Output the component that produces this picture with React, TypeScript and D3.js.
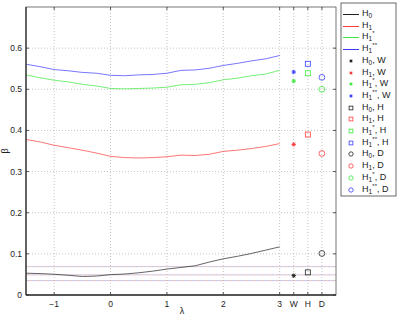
import * as d3 from 'd3'

const lambdas = [-1.5, -1.25, -1, -0.75, -0.5, -0.25, 0, 0.25, 0.5, 0.75, 1, 1.25, 1.5, 1.75, 2, 2.25, 2.5, 2.75, 3]
const h0 = [0.053, 0.052, 0.0505, 0.048, 0.045, 0.046, 0.0495, 0.051, 0.054, 0.058, 0.063, 0.067, 0.071, 0.08, 0.088, 0.094, 0.101, 0.109, 0.117]
const h1 = [0.378, 0.372, 0.364, 0.358, 0.352, 0.345, 0.337, 0.334, 0.333, 0.334, 0.336, 0.34, 0.339, 0.342, 0.349, 0.352, 0.356, 0.361, 0.368]
const h1s = [0.535, 0.528, 0.522, 0.518, 0.512, 0.508, 0.502, 0.501, 0.502, 0.503, 0.505, 0.511, 0.512, 0.516, 0.523, 0.527, 0.533, 0.537, 0.546]
const h1ss = [0.561, 0.555, 0.548, 0.545, 0.541, 0.539, 0.534, 0.533, 0.535, 0.536, 0.539, 0.546, 0.547, 0.551, 0.558, 0.563, 0.569, 0.574, 0.582]

// W, H, D estimates per hypothesis: H0, H1, H1*, H1**
const wVals = [0.047, 0.366, 0.52, 0.542]
const hVals = [0.055, 0.39, 0.539, 0.562]
const dVals = [0.101, 0.344, 0.5, 0.529]

const refLevels = [0.069, 0.049, 0.035]

const xTicks = [-1, 0, 1, 2, 3, 3.25, 3.5, 3.75]
const xTickLabels = ['−1', '0', '1', '2', '3', 'W', 'H', 'D']
const yTicks = [0, 0.1, 0.2, 0.3, 0.4, 0.5, 0.6]

const colors = ['#222', '#ff3b3b', '#3be83b', '#3b3bff']
const hypSub = ['0', '1', '1', '1']
const hypSup = ['', '', '*', '**']

const W = 399
const H = 318
const m = { left: 26, top: 7, right: 336, bottom: 295 }
const font = 'Liberation Sans, Arial, sans-serif'

function Star({ x, y, c, r }: { x: number; y: number; c: string; r: number }) {
  const k = r * 0.7
  const d = `M${x - r},${y}L${x + r},${y}M${x},${y - r}L${x},${y + r}M${x - k},${y - k}L${x + k},${y + k}M${x - k},${y + k}L${x + k},${y - k}`
  return <path d={d} stroke={c} strokeWidth={1} fill="none" />
}

function Marker({ kind, x, y, c, s }: { kind: string; x: number; y: number; c: string; s: number }) {
  if (kind === 'W') return <Star x={x} y={y} c={c} r={2.2 * s} />
  if (kind === 'H') return <rect x={x - 2.5 * s} y={y - 2.5 * s} width={5 * s} height={5 * s} fill="none" stroke={c} strokeWidth={0.8} />
  return <circle cx={x} cy={y} r={2.9 * s} fill="none" stroke={c} strokeWidth={0.8} />
}

function Label({ i, suffix, x, y }: { i: number; suffix: string; x: number; y: number }) {
  const sup = hypSup[i]
  return (
    <text x={x} y={y} fontSize={9} fontFamily={font} fill="#222">
      H
      <tspan fontSize={6.5} dy={2.5}>{hypSub[i]}</tspan>
      {sup ? <tspan fontSize={6} dx={0.2} dy={-6}>{sup}</tspan> : null}
      {suffix ? <tspan dy={sup ? 3.5 : -2.5}>{suffix}</tspan> : null}
    </text>
  )
}

export default function App() {
  const x = d3.scaleLinear().domain([-1.5, 4]).range([m.left, m.right])
  const y = d3.scaleLinear().domain([0, 0.7]).range([m.bottom, m.top])
  const line = d3.line<number>().x((_, i) => x(lambdas[i])).y(d => y(d))
  const series = [h0, h1, h1s, h1ss]

  const legendItems: { kind: string; i: number; suffix: string }[] = []
  for (let i = 0; i < 4; i++) legendItems.push({ kind: 'line', i, suffix: '' })
  ;['W', 'H', 'D'].forEach(k => {
    for (let i = 0; i < 4; i++) legendItems.push({ kind: k, i, suffix: ', ' + k })
  })
  const legY = d3.scaleLinear().domain([0, 15]).range([14, 189.5])

  return (
    <svg width={W} height={H} style={{ position: 'absolute', left: 0, top: 0, background: '#fff' }}>
      {/* grid */}
      {xTicks.map(t => (
        <line key={'gx' + t} x1={x(t)} x2={x(t)} y1={m.top} y2={m.bottom} stroke="#aaa" strokeWidth={0.7} strokeDasharray="1,2" />
      ))}
      {yTicks.filter(t => t > 0).map(t => (
        <line key={'gy' + t} x1={m.left} x2={m.right} y1={y(t)} y2={y(t)} stroke="#aaa" strokeWidth={0.7} strokeDasharray="1,2" />
      ))}
      {/* reference levels */}
      {refLevels.map(v => (
        <g key={'r' + v}>
          <line x1={m.left} x2={m.right} y1={y(v)} y2={y(v)} stroke="#e09090" strokeWidth={1} strokeDasharray="2,2" opacity={0.55} />
          <line x1={m.left} x2={m.right} y1={y(v)} y2={y(v)} stroke="#9090e0" strokeWidth={1} strokeDasharray="2,2" strokeDashoffset={2} opacity={0.55} />
        </g>
      ))}
      {/* series */}
      {series.map((s, i) => (
        <path key={'s' + i} d={line(s) || ''} fill="none" stroke={colors[i]} strokeWidth={0.7} />
      ))}
      {/* point estimates */}
      {[wVals, hVals, dVals].map((vals, k) =>
        vals.map((v, i) => (
          <Marker key={'m' + k + i} kind={['W', 'H', 'D'][k]} x={x([3.25, 3.5, 3.75][k])} y={y(v)} c={colors[i]} s={1} />
        ))
      )}
      {/* axes box */}
      <rect x={m.left} y={m.top} width={m.right - m.left} height={m.bottom - m.top} fill="none" stroke="#555" strokeWidth={0.8} />
      <line x1={m.left} x2={m.left} y1={m.top} y2={m.bottom} stroke="#333" strokeWidth={1.3} />
      <line x1={m.left} x2={m.right} y1={m.bottom} y2={m.bottom} stroke="#333" strokeWidth={1.3} />
      {xTicks.map((t, i) => (
        <g key={'xt' + t}>
          <line x1={x(t)} x2={x(t)} y1={m.bottom} y2={m.bottom - 3} stroke="#333" strokeWidth={0.8} />
          <line x1={x(t)} x2={x(t)} y1={m.top} y2={m.top + 3} stroke="#333" strokeWidth={0.8} />
          <text x={x(t)} y={m.bottom + 12} textAnchor="middle" fontSize={8.5} fontFamily={font} fill="#222">
            {xTickLabels[i]}
          </text>
        </g>
      ))}
      {yTicks.map(t => (
        <g key={'yt' + t}>
          <line x1={m.left} x2={m.left + 3} y1={y(t)} y2={y(t)} stroke="#333" strokeWidth={0.8} />
          <line x1={m.right} x2={m.right - 3} y1={y(t)} y2={y(t)} stroke="#333" strokeWidth={0.8} />
          <text x={m.left - 4} y={y(t) + 3} textAnchor="end" fontSize={8.5} fontFamily={font} fill="#222">
            {t === 0 ? '0' : t.toFixed(1)}
          </text>
        </g>
      ))}
      <text x={182} y={314} textAnchor="middle" fontSize={9} fontFamily={font} fill="#222">λ</text>
      <text x={0} y={0} transform={`translate(8,${(m.top + m.bottom) / 2}) rotate(-90)`} textAnchor="middle" fontSize={9} fontFamily={font} fill="#222">β</text>
      {/* legend */}
      <rect x={341} y={3} width={55} height={193} fill="#fff" stroke="#444" strokeWidth={0.8} />
      {legendItems.map((it, j) => {
        const ly = Math.round(legY(j))
        return (
          <g key={'l' + j}>
            {it.kind === 'line' ? (
              <line x1={343} x2={359} y1={ly + 0.5} y2={ly + 0.5} stroke={colors[it.i]} strokeWidth={1} />
            ) : (
              <Marker kind={it.kind} x={351} y={ly} c={colors[it.i]} s={0.75} />
            )}
            <Label i={it.i} suffix={it.suffix} x={362} y={ly + 1.5} />
          </g>
        )
      })}
    </svg>
  )
}
